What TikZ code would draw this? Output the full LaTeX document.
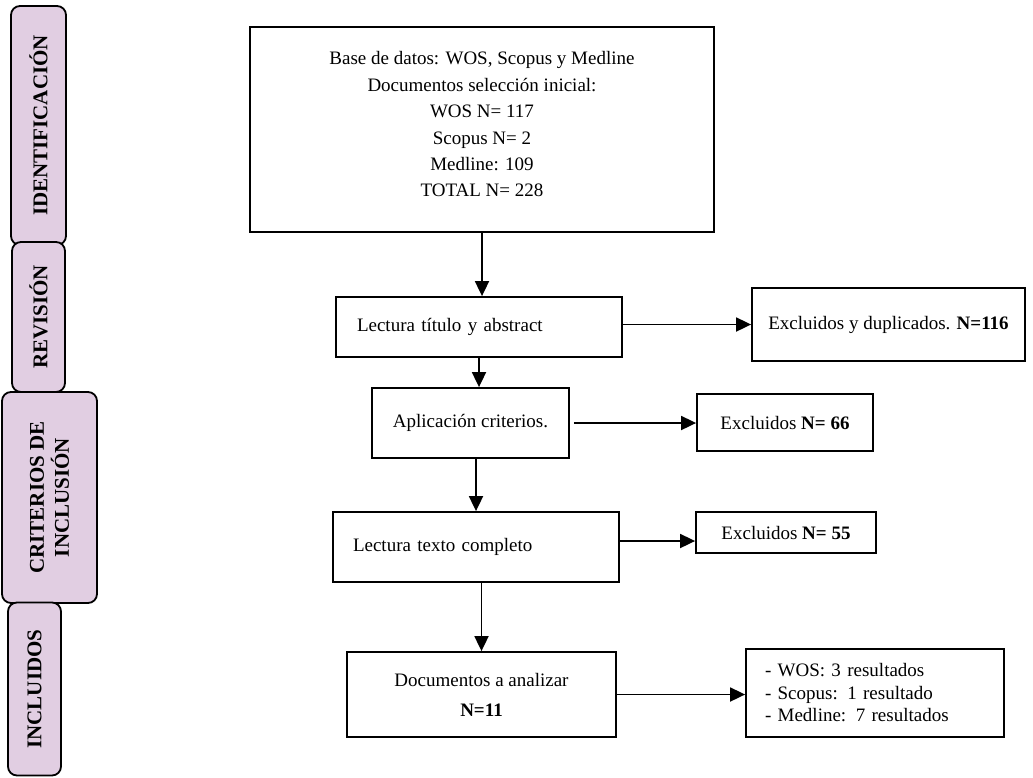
\documentclass[tikz,border=0pt]{standalone}
\usepackage{fontspec}
\setmainfont{Liberation Serif}
\usetikzlibrary{arrows.meta}
\definecolor{lila}{RGB}{225,206,226}

\begin{document}
\begin{tikzpicture}[x=1pt,y=-1pt,
    caja/.style={draw, line width=1.8pt, inner sep=0pt, font=\fontsize{19}{23}\selectfont},
    pestana/.style={draw, line width=1.8pt, fill=lila, rounded corners=9pt, rotate=90, align=center, font=\fontsize{21}{25}\selectfont\bfseries},
    flecha/.style={line width=1.8pt, -{Triangle[length=15pt,width=14pt]}}]
    \useasboundingbox (0,0) rectangle (1033,777);

    \node[pestana, minimum width=239pt, minimum height=55pt] (ident) at (38.5,125.5) {IDENTIFICACIÓN};
    \node[pestana, minimum width=150pt, minimum height=53pt] (revision) at (38.5,317) {REVISIÓN};
    \node[pestana, minimum width=211pt, minimum height=95pt] (criterios) at (49.5,497.5) {CRITERIOS DE\\ INCLUSIÓN};
    \node[pestana, minimum width=173pt, minimum height=53pt] (incluidos) at (34.5,689) {INCLUIDOS};

    \node[caja, minimum width=464pt, minimum height=205pt, align=center, font=\fontsize{19}{26.4}\selectfont] (base) at (482,129.5)
        {Base de datos: WOS, Scopus y Medline\\ Documentos selección inicial:\\ WOS N= 117\\ Scopus N= 2\\ Medline: 109\\ TOTAL N= 228\\[-16pt]};
    \node[caja, minimum width=286pt, minimum height=60pt, text width=244pt, inner xsep=21pt, align=left] (lectura) at (479,327) {Lectura título y abstract};
    \node[caja, minimum width=197pt, minimum height=70pt] (aplica) at (470.5,423) {Aplicación criterios.};
    \node[caja, minimum width=286pt, minimum height=70pt, text width=246pt, inner xsep=20pt, align=left] (texto) at (476,547) {Lectura texto completo};
    \node[caja, minimum width=269pt, minimum height=85pt, align=center, font=\fontsize{19}{30}\selectfont] (analizar) at (481.5,694.5) {Documentos a analizar\\ \textbf{N=11}};

    \node[caja, minimum width=273pt, minimum height=73pt] (excl1) at (888.5,324.5) {Excluidos y duplicados. \textbf{N=116}};
    \node[caja, minimum width=176pt, minimum height=57pt] (excl2) at (785,422.5) {Excluidos \textbf{N= 66}};
    \node[caja, minimum width=180pt, minimum height=41pt] (excl3) at (786,532.5) {Excluidos \textbf{N= 55}};
    \node[caja, minimum width=258pt, minimum height=88pt, text width=220pt, inner xsep=19pt, align=left, font=\fontsize{19}{22.5}\selectfont] (result) at (875,693)
        {- WOS: 3 resultados\\ - Scopus: 1 resultado\\ - Medline: 7 resultados};

    \draw[flecha] (base.south) -- (base.south |- lectura.north);
    \draw[flecha] (lectura.south) -- (lectura.south |- aplica.north);
    \draw[flecha] (aplica.south -| texto.north) -- (texto.north);
    \draw[flecha] (texto.south -| analizar.north) -- (analizar.north);

    \draw[flecha] (lectura.east |- excl1.west) -- (excl1.west);
    \draw[flecha] ([xshift=4pt]aplica.east) -- (aplica.east -| excl2.west);
    \draw[flecha] ([yshift=6pt]texto.east) -- ([yshift=6pt]texto.east -| excl3.west);
    \draw[flecha] (analizar.east) -- (analizar.east -| result.west);
\end{tikzpicture}
\end{document}
